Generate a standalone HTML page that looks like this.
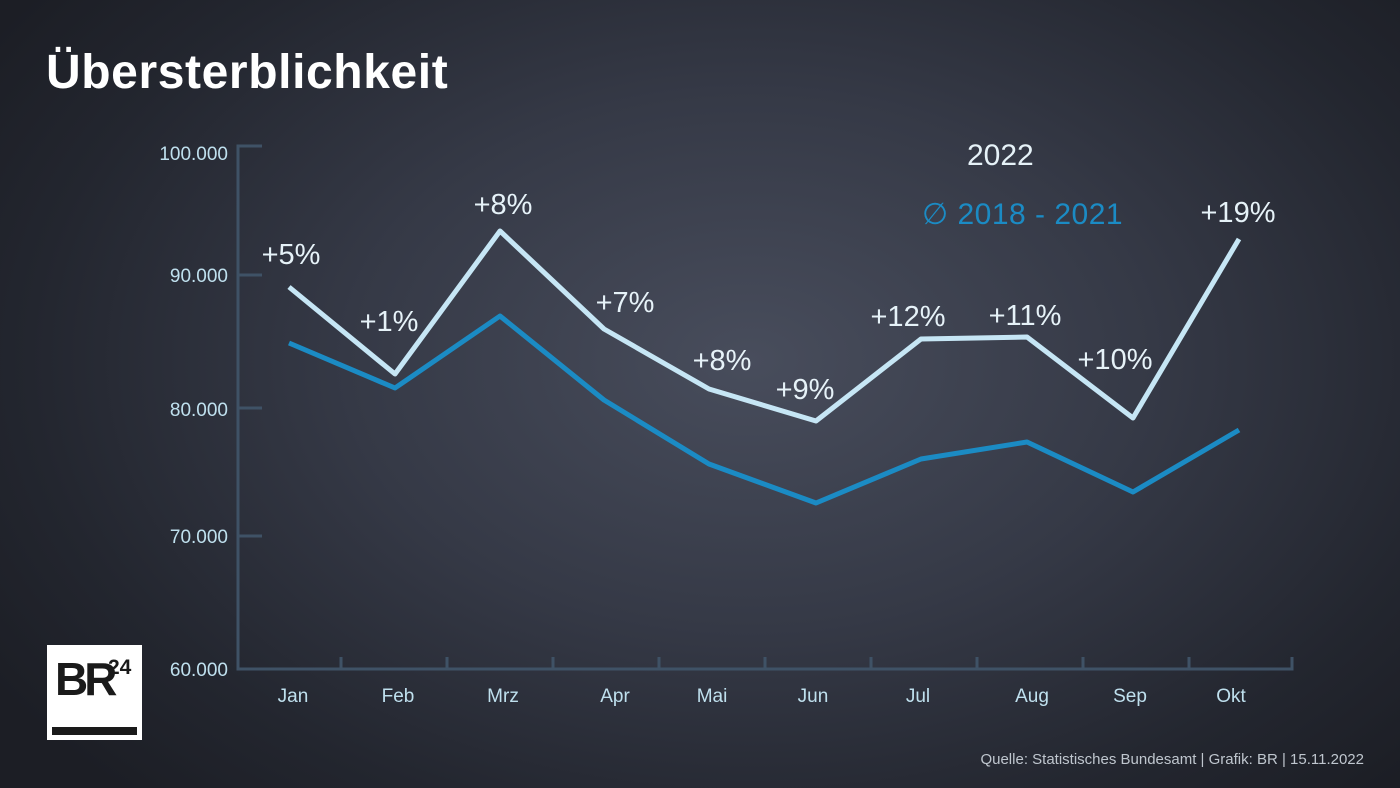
<!DOCTYPE html>
<html><head><meta charset="utf-8"><style>
html,body{margin:0;padding:0}
body{width:1400px;height:788px;overflow:hidden;background:radial-gradient(ellipse 900px 600px at 750px 360px,#484d5c 0%,#353946 45%,#23262f 80%,#1c1e25 100%);font-family:"Liberation Sans",sans-serif;position:relative}
svg{position:absolute;left:0;top:0}
</style></head><body>
<svg width="1400" height="788" viewBox="0 0 1400 788">
<text x="46" y="88" fill="#fff" font-size="48" font-weight="bold" letter-spacing="0.6">Übersterblichkeit</text>
<g stroke="#3f5266" stroke-width="3" fill="none">
<path d="M262 146H238V669H1292V657"/>
<path d="M238 275H262M238 408H262M238 536H262"/>
<path d="M341 669V657M447 669V657M553 669V657M659 669V657M765 669V657M871 669V657M977 669V657M1083 669V657M1189 669V657"/>
</g>
<g fill="#bfe0ee" font-size="19" text-anchor="end">
<text x="228" y="160">100.000</text><text x="228" y="282">90.000</text><text x="228" y="416">80.000</text><text x="228" y="543">70.000</text><text x="228" y="676">60.000</text>
</g>
<g fill="#bfe0ee" font-size="19" text-anchor="middle">
<text x="293" y="702">Jan</text><text x="398" y="702">Feb</text><text x="503" y="702">Mrz</text><text x="615" y="702">Apr</text><text x="712" y="702">Mai</text><text x="813" y="702">Jun</text><text x="918" y="702">Jul</text><text x="1032" y="702">Aug</text><text x="1130" y="702">Sep</text><text x="1231" y="702">Okt</text>
</g>
<polyline fill="none" stroke="#1b8bc4" stroke-width="5" stroke-linejoin="round" points="289,343 395,388 500,316 604,400 709,464 816,503 921,459 1027,442 1133,492 1239,430"/>
<polyline fill="none" stroke="#c6e6f5" stroke-width="5" stroke-linejoin="round" points="289,287 395,374 500,231 604,329 709,389 816,421 921,339 1027,337 1133,418 1239,239"/>
<g fill="#e6f2f8" font-size="29" text-anchor="middle">
<text x="291" y="264">+5%</text><text x="389" y="331">+1%</text><text x="503" y="214">+8%</text><text x="625" y="312">+7%</text><text x="722" y="370">+8%</text><text x="805" y="399">+9%</text><text x="908" y="326">+12%</text><text x="1025" y="325">+11%</text><text x="1115" y="369">+10%</text><text x="1238" y="222">+19%</text>
</g>
<text x="967" y="165" fill="#e6f2f8" font-size="30">2022</text>
<text x="922" y="224" fill="#1b8bc4" font-size="30" letter-spacing="0.5">∅  2018 - 2021</text>
<text x="1364" y="764" fill="#bfc6ce" font-size="15" text-anchor="end">Quelle: Statistisches Bundesamt | Grafik: BR | 15.11.2022</text>
<rect x="47" y="645" width="95" height="95" fill="#fff"/>
<text x="55" y="695" fill="#1a1a1a" font-size="46" font-weight="bold" letter-spacing="-4">BR</text>
<text x="108" y="674" fill="#1a1a1a" font-size="21" font-weight="bold">24</text>
<rect x="52" y="727" width="85" height="8" fill="#1a1a1a"/>
</svg>
</body></html>
